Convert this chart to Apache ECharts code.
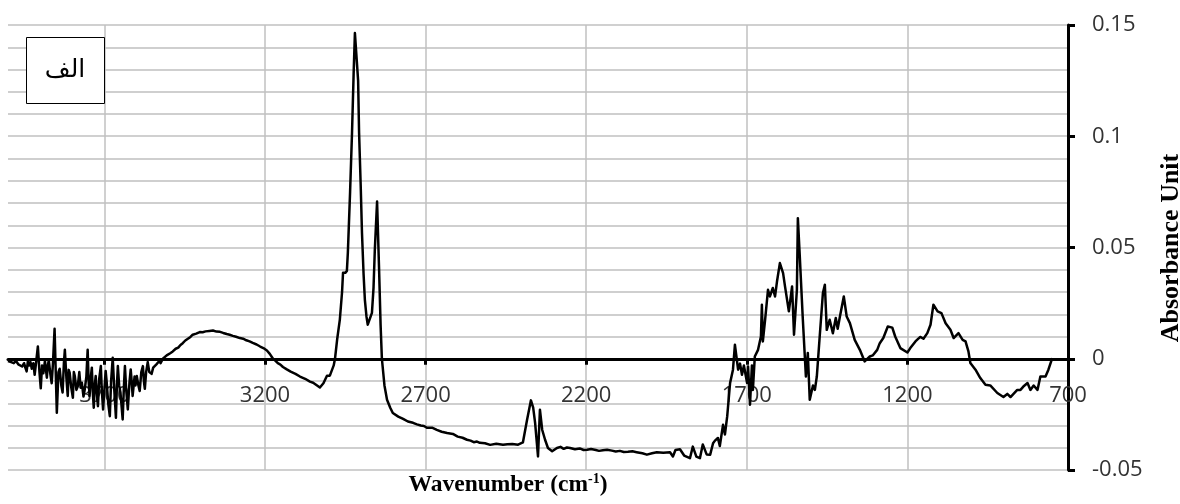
<!DOCTYPE html>
<html>
<head>
<meta charset="utf-8">
<script src="https://cdn.jsdelivr.net/npm/echarts@6/dist/echarts.min.js"></script>
<style>
html,body{margin:0;padding:0;background:#fff;}
#chart{width:1180px;height:504px;}
</style>
</head>
<body>
<div id="chart"></div>
<script>
// Spectrum: [wavenumber (cm-1), absorbance]
// O-H region with water-vapour noise
const noiseRegion = [
[4000,-0.001],[3990,-0.0015],[3982,-0.002],[3975,-0.001],[3968,-0.0025],[3962,-0.0018],[3956,-0.0035],[3950,-0.002],
[3946,-0.004],[3942,-0.0057],[3938,-0.001],[3934,-0.003],[3930,-0.0015],[3926,-0.0045],[3921,-0.002],[3917,-0.0072],
[3912,-0.001],[3907,0.0055],[3902,-0.006],[3898,-0.0133],[3894,-0.003],[3890,-0.0065],[3885,-0.001],[3879,-0.0085],
[3876,-0.003],[3873,-0.0007],[3868,-0.007],[3864,-0.011],[3860,-0.002],[3855,0.0135],[3851,-0.008],[3848,-0.0243],
[3843,-0.006],[3839,-0.0045],[3834,-0.012],[3830,-0.0152],[3826,-0.002],[3823,0.004],[3818,-0.009],[3814,-0.0167],
[3811,-0.005],[3808,-0.0063],[3803,-0.013],[3798,-0.0175],[3795,-0.006],[3792,-0.0078],[3787,-0.014],[3783,-0.0125],
[3778,-0.006],[3774,-0.013],[3770,-0.0108],[3765,-0.017],[3761,-0.0137],[3756,-0.008],[3752,0.004],[3749,-0.01],
[3746,-0.0167],[3742,-0.008],[3739,-0.004],[3736,-0.015],[3733,-0.022],[3730,-0.012],[3727,-0.0078],[3723,-0.016],
[3720,-0.0213],[3716,-0.009],[3711,-0.0033],[3708,-0.014],[3704,-0.0228],[3699,-0.012],[3696,-0.0055],[3693,-0.01],
[3688,-0.02],[3683,-0.0258],[3679,-0.01],[3674,0.0004],[3669,-0.014],[3664,-0.0265],[3661,-0.012],[3658,-0.0033],
[3654,-0.012],[3650,-0.015],[3646,-0.022],[3643,-0.0273],[3639,-0.012],[3636,-0.0033],[3632,-0.014],[3627,-0.0228],
[3622,-0.011],[3618,-0.0048],[3615,-0.01],[3612,-0.0167],[3606,-0.008],[3603,-0.012],[3599,-0.0078],[3594,-0.012],
[3590,-0.0145],[3585,-0.006],[3580,-0.0033],[3577,-0.01],[3574,-0.0135],[3570,-0.006],[3565,-0.0015],[3560,-0.006],
[3553,-0.0068],[3548,-0.004],[3543,-0.0045],[3538,-0.0025],[3534,-0.003],[3529,-0.001],[3525,-0.002],[3518,0.0],
[3512,0.0005],[3506,0.0015]
];
// broad hump and C-H stretching peaks
const chRegion = [
[3495,0.0025],[3487,0.0033],[3478,0.0045],[3470,0.005],[3463,0.0062],[3456,0.007],[3448,0.0082],[3440,0.009],
[3432,0.0098],[3425,0.0108],[3414,0.0113],[3403,0.012],[3394,0.0119],[3385,0.0123],[3373,0.0125],[3362,0.0127],
[3351,0.0122],[3340,0.0121],[3330,0.0116],[3319,0.0111],[3310,0.0108],[3300,0.0103],[3290,0.0099],[3278,0.0093],
[3268,0.009],[3258,0.0083],[3248,0.0078],[3238,0.0071],[3226,0.0064],[3215,0.0055],[3205,0.0048],[3194,0.0037],
[3185,0.0022],[3175,0.0],[3168,-0.0008],[3160,-0.002],[3152,-0.0026],[3144,-0.0037],[3132,-0.0048],[3120,-0.0058],
[3105,-0.0068],[3091,-0.008],[3075,-0.009],[3060,-0.0103],[3050,-0.0108],[3040,-0.0118],[3029,-0.0129],[3018,-0.011],
[3007,-0.0076],[2998,-0.0076],[2992,-0.0074],[2986,-0.003],[2982,0.0],[2975,0.009],[2967,0.0175],[2960,0.03],
[2957,0.0386],[2950,0.0386],[2945,0.0395],[2942,0.0476],[2935,0.075],[2929,0.1016],[2924,0.128],[2920,0.1464],
[2914,0.1464],[2910,0.125],[2907,0.1016],[2902,0.078],[2898,0.0566],[2893,0.038],[2889,0.0265],[2884,0.019],
[2880,0.0153],[2874,0.016],[2867,0.0206],[2862,0.032],[2858,0.049],[2851,0.0707],[2845,0.0415],[2840,0.015],
[2836,0.0],[2828,-0.012],[2820,-0.0184]
];
// baseline, CO2 doublet and noisy 1900-1700 band
const baselineRegion = [
[2810,-0.022],[2802,-0.0244],[2785,-0.026],[2770,-0.027],[2755,-0.0282],[2739,-0.0288],[2727,-0.0295],[2715,-0.03],
[2705,-0.0302],[2696,-0.031],[2680,-0.031],[2665,-0.032],[2650,-0.0328],[2633,-0.0334],[2615,-0.0338],[2600,-0.035],
[2585,-0.0355],[2571,-0.0364],[2560,-0.0368],[2550,-0.0375],[2540,-0.0372],[2531,-0.0378],[2515,-0.038],[2499,-0.0387],
[2480,-0.0382],[2459,-0.0387],[2445,-0.0384],[2430,-0.0383],[2412,-0.0386],[2397,-0.0376],[2384,-0.0274],[2372,-0.0187],
[2365,-0.022],[2359,-0.0288],[2350,-0.0439],[2344,-0.0229],[2337,-0.0319],[2328,-0.0364],[2319,-0.0401],[2306,-0.0416],
[2291,-0.0401],[2280,-0.0396],[2270,-0.0405],[2260,-0.0399],[2250,-0.0401],[2235,-0.0407],[2220,-0.0403],[2208,-0.041],
[2197,-0.0409],[2185,-0.0406],[2170,-0.041],[2160,-0.0414],[2148,-0.0411],[2135,-0.0409],[2120,-0.0413],[2108,-0.0417],
[2095,-0.0414],[2083,-0.0419],[2070,-0.0418],[2056,-0.0416],[2043,-0.042],[2025,-0.0425],[2011,-0.0431],[1995,-0.0425],
[1980,-0.042],[1960,-0.0422],[1939,-0.042],[1930,-0.0439],[1922,-0.041],[1908,-0.0407],[1895,-0.0435],[1877,-0.0447],
[1868,-0.0395],[1857,-0.044],[1846,-0.0447],[1837,-0.0385],[1825,-0.043],[1814,-0.0431],[1805,-0.038],[1799,-0.0368],
[1790,-0.0356],[1784,-0.0392],[1774,-0.0297],[1768,-0.034],[1761,-0.0259],[1752,-0.0109],[1743,-0.0049],[1737,0.0063],
[1733,0.0063],[1727,-0.0049],[1721,-0.0022],[1715,-0.0072],[1709,-0.003],[1699,-0.0109],[1696,-0.0035],[1690,-0.0207],
[1684,-0.003],[1681,-0.014],[1675,0.001]
];
// fingerprint region
const fingerprintRegion = [
[1665,0.004],[1656,0.01],[1653,0.0243],[1650,0.0078],[1643,0.0175],[1634,0.031],[1628,0.028],[1619,0.0318],
[1612,0.028],[1606,0.0347],[1597,0.043],[1587,0.0385],[1581,0.0325],[1575,0.0325],[1569,0.0213],[1559,0.0325],
[1553,0.0108],[1544,0.031],[1541,0.0632],[1535,0.046],[1526,0.019],[1516,-0.008],[1510,0.0026],[1504,-0.0184],
[1494,-0.012],[1488,-0.014],[1482,-0.008],[1473,0.01],[1463,0.0295],[1457,0.0333],[1451,0.013],[1442,0.0175],
[1432,0.0115],[1423,0.0183],[1417,0.0135],[1410,0.019],[1398,0.028],[1389,0.019],[1379,0.016],[1364,0.0085],
[1348,0.004],[1333,-0.0012],[1317,0.001],[1308,0.0015],[1294,0.004],[1286,0.007],[1275,0.0093],[1261,0.0145],
[1247,0.014],[1238,0.01],[1222,0.0048],[1200,0.0028],[1191,0.0048],[1175,0.0078],[1160,0.0098],[1150,0.009],
[1138,0.0115],[1128,0.0153],[1119,0.0243],[1106,0.0213],[1094,0.0205],[1081,0.016],[1066,0.013],[1056,0.0093],
[1041,0.0115],[1028,0.0085],[1019,0.0078],[1010,0.0033],[1004,-0.0019],[988,-0.0049],[973,-0.0087],[957,-0.0117],
[942,-0.012],[920,-0.0154],[901,-0.0172],[889,-0.0158],[879,-0.0172],[858,-0.014],[848,-0.014],[839,-0.0125],
[826,-0.0109],[817,-0.014],[807,-0.012],[795,-0.014],[786,-0.008],[770,-0.008],[761,-0.0049],[749,0.0003]
];
const xTickLabels = [3700, 3200, 2700, 2200, 1700, 1200, 700];
const yTickLabels = [-0.05, 0, 0.05, 0.1, 0.15];
const panelLabel = 'الف';

const xMin = 700, xMax = 4000, yMin = -0.05, yMax = 0.15;
const gridTop = 25, gridBottom = 34, chartH = 504;
const gridH = chartH - gridTop - gridBottom;
// put the x axis line at absorbance = 0 of the value scale
const xAxisOffset = -((0 - yMin) / (yMax - yMin)) * gridH;

const seriesData = [].concat(noiseRegion, chRegion, baselineRegion, fingerprintRegion);

const chart = echarts.init(document.getElementById('chart'), null, {renderer: 'canvas'});
const gridColor = '#c0c0c0';
const labelFont = {fontFamily: 'Open Sans', fontSize: 22, color: '#333'};

chart.setOption({
  animation: false,
  backgroundColor: '#fff',
  grid: {left: 8, right: 112, top: gridTop, bottom: gridBottom, containLabel: false, outerBoundsMode: 'none'},
  xAxis: [{
    type: 'value',
    inverse: true,
    min: xMin,
    max: xMax,
    interval: 100,
    position: 'bottom',
    offset: xAxisOffset,
    axisLine: {show: true, onZero: false, lineStyle: {color: '#000', width: 3}},
    axisTick: {show: true, length: 6, lineStyle: {color: '#000', width: 3}, customValues: xTickLabels},
    axisLabel: Object.assign({margin: 26, customValues: xTickLabels, formatter: v => String(v)}, labelFont),
    splitLine: {show: true, lineStyle: {color: gridColor, width: 1.5}}
  }],
  yAxis: {
    type: 'value',
    position: 'right',
    min: yMin,
    max: yMax,
    interval: 0.05,
    axisLine: {show: true, onZero: false, lineStyle: {color: '#000', width: 3}},
    axisTick: {show: true, length: 7, lineStyle: {color: '#000', width: 3}},
    minorTick: {show: false, splitNumber: 5},
    axisLabel: Object.assign({margin: 24, customValues: yTickLabels,
      formatter: v => String(Math.round(v * 100) / 100)}, labelFont),
    splitLine: {show: true, lineStyle: {color: gridColor, width: 1.5}},
    minorSplitLine: {show: true, lineStyle: {color: gridColor, width: 1.5}}
  },
  series: [{
    type: 'line',
    data: seriesData,
    showSymbol: false,
    symbol: 'none',
    lineStyle: {color: '#000', width: 2.5, join: 'round'},
    itemStyle: {color: '#000'},
    z: 3
  }],
  graphic: [
    {type: 'rect', left: 26, top: 37, z: 10,
     shape: {x: 0, y: 0, width: 78, height: 66},
     style: {fill: '#fff', stroke: '#000', lineWidth: 1}},
    {type: 'text', x: 65, y: 70, z: 11,
     style: {text: panelLabel, font: '25px "DejaVu Serif", "DejaVu Sans", serif', fill: '#000',
             align: 'center', verticalAlign: 'middle'}},
    {
      type: 'text', x: 508, y: 485, z: 10,
      style: {
        text: '{a|Wavenumber (cm}{b|-1}{a|)}',
        align: 'center', verticalAlign: 'middle',
        rich: {
          a: {fontFamily: 'Liberation Serif', fontWeight: 'bold', fontSize: 23.5, fill: '#000', lineHeight: 26},
          b: {fontFamily: 'Liberation Serif', fontWeight: 'bold', fontSize: 14, fill: '#000', lineHeight: 26, verticalAlign: 'top'}
        }
      }
    },
    {
      type: 'text', x: 1171, y: 248, rotation: Math.PI / 2, z: 10,
      style: {
        text: 'Absorbance Unit',
        font: 'bold 26px "Liberation Serif"', fill: '#000',
        align: 'center', verticalAlign: 'middle'
      }
    }
  ]
});
</script>
</body>
</html>
